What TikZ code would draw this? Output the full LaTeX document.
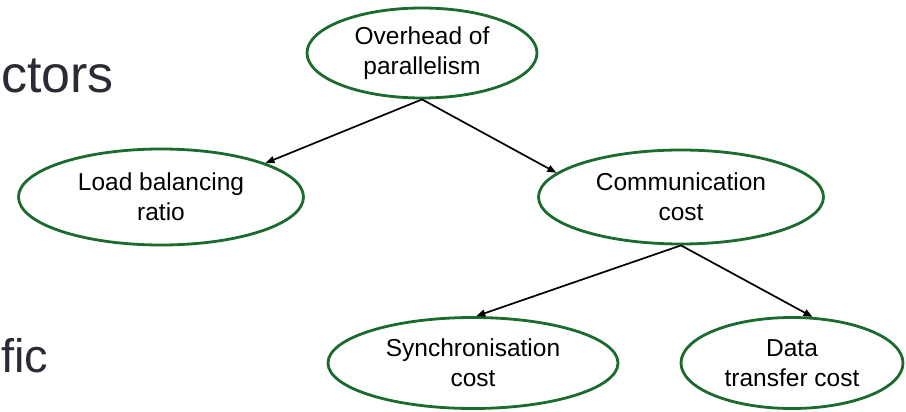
\documentclass[tikz,border=0pt]{standalone}
\usepackage{fontspec}
\setmainfont{Liberation Sans}
\usetikzlibrary{shapes.geometric,arrows.meta}
\definecolor{ellgreen}{HTML}{1B6A2E}
\definecolor{slidegrey}{HTML}{2B2B36}
\tikzset{
  oval/.style={ellipse, draw=ellgreen, line width=2.8pt, inner sep=0pt,
    align=center, font=\fontsize{24.5}{30}\selectfont, text=black},
  link/.style={draw=black, line width=1.7pt, -{Triangle[length=9pt,width=7pt]}},
  frag/.style={anchor=base west, inner sep=0pt, text=slidegrey}
}
\begin{document}
\begin{tikzpicture}[x=1pt,y=-1pt]
\useasboundingbox (0,0) rectangle (906,412);
\node[frag, font=\fontsize{52}{60}\selectfont] (ctors) at (1,93) {ctors};
\node[frag, font=\fontsize{47}{56}\selectfont] (fic) at (1,372) {fic};
\node[oval, minimum width=230pt, minimum height=90pt] (top) at (422,53) {Overhead of\\parallelism};
\node[oval, minimum width=285pt, minimum height=96pt] (load) at (161,197) {Load balancing\\ratio};
\node[oval, minimum width=285pt, minimum height=94pt] (comm) at (681,197) {Communication\\cost};
\node[oval, minimum width=290pt, minimum height=91pt] (sync) at (473,363) {Synchronisation\\cost};
\node[oval, minimum width=222pt, minimum height=91pt] (data) at (792,363) {Data\\transfer cost};
\draw[link] (top.south) -- (load.18);
\draw[link] (top.south) -- (comm.169);
\draw[link] (comm.south) -- (sync.86);
\draw[link] (comm.south) -- (data.66);
\end{tikzpicture}
\end{document}
